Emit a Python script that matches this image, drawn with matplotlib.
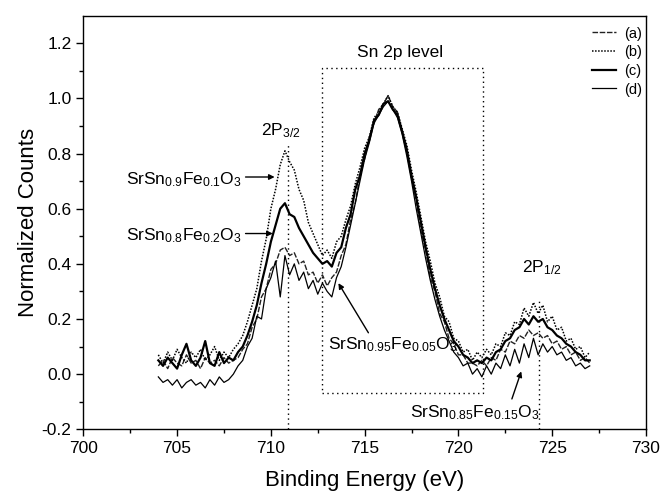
import numpy as np
import matplotlib
matplotlib.use("Agg")
import matplotlib.pyplot as plt
from matplotlib.patches import Rectangle

plt.rcParams['font.family'] = ['Liberation Sans', 'DejaVu Sans']
plt.rcParams['mathtext.default'] = 'regular'
plt.rcParams['axes.unicode_minus'] = False

# binding energy grid (eV), 0.25 eV steps from 704 to 727
energy = np.arange(704.0, 727.01, 0.25)

# (a) SrSn0.95Fe0.05O3
counts_a = [0.03, 0.05, 0.02, 0.06, 0.04, 0.03, 0.07, 0.04, 0.05, 0.02, 0.06, 0.04, 0.05, 0.03, 0.06, 0.04,
            0.05, 0.06, 0.09, 0.11, 0.17, 0.20, 0.28, 0.31, 0.38, 0.40, 0.45, 0.46, 0.43, 0.44, 0.40, 0.41,
            0.36, 0.37, 0.33, 0.36, 0.32, 0.35, 0.37, 0.43, 0.47, 0.56, 0.62, 0.72, 0.78, 0.86, 0.91, 0.96,
            0.98, 1.01, 0.97, 0.95, 0.88, 0.82, 0.71, 0.63, 0.52, 0.45, 0.35, 0.30, 0.22, 0.19, 0.13, 0.11,
            0.07, 0.07, 0.04, 0.04, 0.03, 0.05, 0.03, 0.06, 0.05, 0.09, 0.08, 0.12, 0.11, 0.14, 0.13, 0.16,
            0.14, 0.15, 0.13, 0.14, 0.11, 0.12, 0.09, 0.10, 0.07, 0.08, 0.05, 0.06, 0.04]
# (b) SrSn0.9Fe0.1O3
counts_b = [0.07, 0.04, 0.08, 0.05, 0.09, 0.06, 0.04, 0.08, 0.06, 0.09, 0.05, 0.07, 0.10, 0.05, 0.08, 0.06,
            0.09, 0.11, 0.14, 0.19, 0.25, 0.31, 0.41, 0.49, 0.60, 0.67, 0.76, 0.81, 0.77, 0.74, 0.67, 0.63,
            0.55, 0.51, 0.47, 0.43, 0.45, 0.42, 0.48, 0.50, 0.56, 0.61, 0.69, 0.75, 0.82, 0.86, 0.93, 0.95,
            0.98, 1.01, 0.97, 0.95, 0.89, 0.83, 0.74, 0.66, 0.57, 0.48, 0.41, 0.33, 0.28, 0.21, 0.19, 0.13,
            0.12, 0.08, 0.09, 0.05, 0.08, 0.06, 0.09, 0.07, 0.11, 0.10, 0.15, 0.14, 0.19, 0.18, 0.24, 0.21,
            0.26, 0.22, 0.25, 0.19, 0.21, 0.16, 0.17, 0.12, 0.13, 0.09, 0.10, 0.06, 0.08]
# (c) SrSn0.8Fe0.2O3
counts_c = [0.05, 0.03, 0.06, 0.04, 0.02, 0.07, 0.11, 0.05, 0.03, 0.06, 0.12, 0.04, 0.03, 0.08, 0.04, 0.06,
            0.05, 0.08, 0.10, 0.14, 0.19, 0.25, 0.33, 0.40, 0.48, 0.54, 0.60, 0.62, 0.58, 0.57, 0.53, 0.50,
            0.47, 0.44, 0.42, 0.40, 0.41, 0.39, 0.44, 0.46, 0.53, 0.58, 0.67, 0.72, 0.80, 0.85, 0.92, 0.94,
            0.98, 0.99, 0.96, 0.94, 0.88, 0.81, 0.72, 0.64, 0.55, 0.46, 0.38, 0.31, 0.25, 0.20, 0.16, 0.12,
            0.10, 0.07, 0.06, 0.04, 0.05, 0.04, 0.06, 0.05, 0.08, 0.09, 0.12, 0.13, 0.16, 0.17, 0.20, 0.18,
            0.21, 0.19, 0.20, 0.17, 0.16, 0.14, 0.13, 0.11, 0.10, 0.08, 0.07, 0.05, 0.05]
# (d) SrSn0.85Fe0.15O3
counts_d = [-0.01, -0.03, -0.02, -0.04, -0.02, -0.05, -0.03, -0.02, -0.04, -0.03, -0.05, -0.02, -0.04, -0.01, -0.03, -0.02,
            0.00, 0.03, 0.05, 0.10, 0.13, 0.21, 0.20, 0.31, 0.35, 0.41, 0.28, 0.43, 0.36, 0.40, 0.34, 0.37,
            0.31, 0.34, 0.29, 0.33, 0.30, 0.28, 0.35, 0.39, 0.46, 0.54, 0.62, 0.70, 0.78, 0.84, 0.91, 0.94,
            0.97, 0.99, 0.96, 0.93, 0.87, 0.79, 0.70, 0.60, 0.51, 0.42, 0.34, 0.27, 0.21, 0.16, 0.12, 0.08,
            0.06, 0.03, 0.04, 0.00, 0.02, -0.01, 0.03, 0.00, 0.04, 0.02, 0.07, 0.03, 0.09, 0.04, 0.11, 0.06,
            0.13, 0.07, 0.11, 0.08, 0.10, 0.07, 0.08, 0.05, 0.06, 0.03, 0.04, 0.02, 0.03]

labels = ['(a)', '(b)', '(c)', '(d)']

fig = plt.figure(figsize=(6.67, 4.91), dpi=100)
ax = fig.add_axes([0.1249, 0.1257, 0.8436, 0.8423])

ax.plot(energy, counts_a, color='#222222', lw=1.0, ls=(0, (4, 1.2)), label=labels[0])
ax.plot(energy, counts_b, color='black', lw=1.1, ls=(0, (1, 1.0)), label=labels[1])
ax.plot(energy, counts_c, color='black', lw=1.6, ls='-', label=labels[2])
ax.plot(energy, counts_d, color='black', lw=0.9, ls='-', label=labels[3])

# Sn 2p level box and peak markers
ax.add_patch(Rectangle((712.75, -0.07), 721.3 - 712.75, 1.11 + 0.07, fill=False,
                       ls=(0, (1, 2.5)), lw=1.0, ec='black'))
ax.plot([710.9, 710.9], [-0.2, 0.84], color='black', ls=(0, (1, 2.5)), lw=1.0)
ax.plot([724.3, 724.3], [-0.2, 0.27], color='black', ls=(0, (1, 2.5)), lw=1.0)

fs = 12.5
ax.text(716.9, 1.15, 'Sn 2p level', ha='center', va='baseline', fontsize=fs)
ax.text(709.5, 0.865, '2P$_{3/2}$', ha='left', va='baseline', fontsize=fs)
ax.text(723.4, 0.37, '2P$_{1/2}$', ha='left', va='baseline', fontsize=fs)

arrow = dict(arrowstyle='-|>', color='black', lw=1.0, mutation_scale=8, shrinkA=0, shrinkB=0)
ax.text(708.45, 0.69, 'SrSn$_{0.9}$Fe$_{0.1}$O$_3$', ha='right', va='baseline', fontsize=fs)
ax.annotate('', xy=(710.2, 0.715), xytext=(708.65, 0.715), arrowprops=arrow)
ax.text(708.45, 0.486, 'SrSn$_{0.8}$Fe$_{0.2}$O$_3$', ha='right', va='baseline', fontsize=fs)
ax.annotate('', xy=(710.1, 0.51), xytext=(708.65, 0.51), arrowprops=arrow)
ax.text(713.05, 0.09, 'SrSn$_{0.95}$Fe$_{0.05}$O$_3$', ha='left', va='baseline', fontsize=fs)
ax.annotate('', xy=(713.6, 0.33), xytext=(715.2, 0.15), arrowprops=arrow)
ax.text(717.4, -0.155, 'SrSn$_{0.85}$Fe$_{0.15}$O$_3$', ha='left', va='baseline', fontsize=fs)
ax.annotate('', xy=(723.35, 0.01), xytext=(722.85, -0.09), arrowprops=arrow)

ax.set_xlim(700, 730)
ax.set_ylim(-0.2, 1.3)
ax.set_xticks(np.arange(700, 731, 5))
ax.set_xticks(np.arange(700, 731, 2.5), minor=True)
ax.set_yticks(np.arange(-0.2, 1.21, 0.2))
ax.set_yticks(np.arange(-0.2, 1.3, 0.1), minor=True)
ax.set_yticklabels(['%.1f' % v for v in np.arange(-0.2, 1.21, 0.2)])
ax.tick_params(which='both', direction='out', top=False, right=False, labelsize=fs)
ax.tick_params(which='major', length=5, width=1)
ax.tick_params(which='minor', length=3, width=1)
for s in ax.spines.values():
    s.set_linewidth(1.0)

ax.set_xlabel('Binding Energy (eV)', fontsize=16, labelpad=10)
ax.set_ylabel('Normalized Counts', fontsize=16, labelpad=2)

ax.legend(loc='upper right', bbox_to_anchor=(1.008, 0.995), frameon=False, fontsize=10.5,
          handlelength=1.7, handletextpad=0.5, labelspacing=0.32, borderaxespad=0.2)

fig.savefig('out.png', dpi=100)
